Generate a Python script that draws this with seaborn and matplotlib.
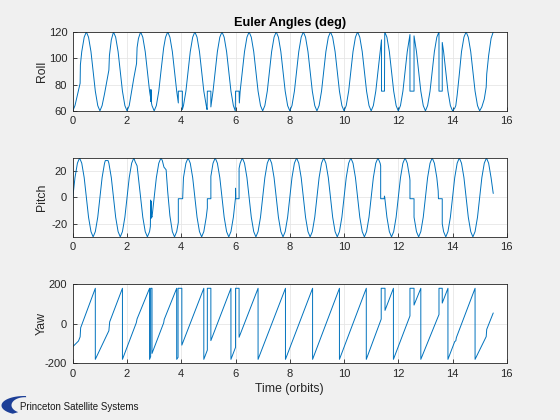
import numpy as np
import pandas as pd
import matplotlib
matplotlib.use('Agg')
import matplotlib.pyplot as plt
import seaborn as sns
from matplotlib.patches import Polygon

# values (time in orbits, angle in deg)
roll_pts = [
    (0, 60), (0.08, 64), (0.17, 72), (0.27, 81), (0.28, 95), (0.33, 105), (0.42, 116), (0.5, 120), (0.58, 116), (0.67, 105), (0.75, 90), (0.83, 75), (0.92, 64),
    (1, 60), (1.08, 64), (1.17, 73), (1.25, 82), (1.33, 91), (1.35, 102), (1.42, 114), (1.5, 120), (1.58, 116), (1.67, 105), (1.75, 90), (1.83, 75), (1.92, 64),
    (2, 60), (2.08, 64), (2.17, 75), (2.25, 85), (2.35, 96), (2.37, 108), (2.42, 115), (2.5, 120), (2.58, 116), (2.67, 105), (2.75, 90), (2.83, 75),
    (2.86, 71), (2.87, 76), (2.88, 67), (2.89, 76), (2.9, 66), (2.92, 64),
    (3, 60), (3.08, 64), (3.17, 75), (3.25, 90), (3.33, 104), (3.35, 108), (3.42, 116), (3.5, 120), (3.58, 116), (3.67, 105), (3.75, 90), (3.83, 75),
    (3.89, 66), (3.89, 75), (4.04, 75), (4.04, 61),
    (4.08, 64), (4.17, 75), (4.25, 90), (4.33, 105), (4.42, 116), (4.5, 120), (4.58, 116), (4.67, 105), (4.75, 90), (4.83, 75), (4.92, 64),
    (4.95, 61), (4.96, 75), (5.09, 75), (5.09, 63),
    (5.17, 75), (5.25, 90), (5.33, 105), (5.42, 116), (5.5, 120), (5.58, 116), (5.67, 105), (5.75, 90), (5.83, 75), (5.92, 64),
    (5.99, 60), (6.0, 75), (6.13, 75), (6.14, 66),
    (6.17, 75), (6.25, 90), (6.33, 105), (6.42, 116), (6.5, 120), (6.58, 116), (6.67, 105), (6.75, 90), (6.83, 75), (6.92, 64),
    (7, 60), (7.08, 64), (7.17, 75), (7.25, 90), (7.33, 105), (7.42, 116), (7.5, 120), (7.58, 116), (7.67, 105), (7.75, 90), (7.83, 75), (7.92, 64),
    (8, 60), (8.08, 64), (8.17, 75), (8.25, 90), (8.33, 105), (8.42, 116), (8.5, 120), (8.58, 116), (8.67, 105), (8.75, 90), (8.83, 75), (8.92, 64),
    (9, 60), (9.08, 64), (9.17, 75), (9.25, 90), (9.33, 105), (9.42, 116), (9.5, 120), (9.58, 116), (9.67, 105), (9.75, 90), (9.83, 75), (9.92, 64),
    (10, 60), (10.08, 64), (10.17, 75), (10.25, 90), (10.33, 105), (10.42, 116), (10.5, 120), (10.58, 116), (10.67, 105), (10.75, 90), (10.83, 75), (10.92, 64),
    (11, 60), (11.08, 64), (11.17, 75), (11.25, 90), (11.33, 105), (11.38, 114), (11.38, 75), (11.49, 75), (11.5, 120),
    (11.58, 116), (11.67, 105), (11.75, 90), (11.83, 75), (11.92, 64),
    (12, 60), (12.08, 64), (12.17, 75), (12.25, 90), (12.33, 105), (12.42, 117), (12.43, 118), (12.43, 75), (12.58, 75), (12.58, 117),
    (12.67, 105), (12.75, 90), (12.83, 75), (12.92, 64),
    (13, 60), (13.08, 64), (13.17, 75), (13.25, 90), (13.33, 105), (13.42, 116), (13.5, 120), (13.5, 75), (13.62, 75), (13.62, 112),
    (13.67, 105), (13.75, 90), (13.83, 75), (13.92, 64),
    (14, 60), (14.08, 62), (14.12, 64), (14.14, 67), (14.17, 72), (14.25, 88), (14.33, 105), (14.42, 116), (14.5, 120), (14.58, 116), (14.67, 105), (14.75, 90), (14.83, 75), (14.92, 64),
    (15, 60), (15.08, 63), (15.17, 69), (15.24, 78), (15.26, 88), (15.33, 102), (15.42, 115), (15.5, 120),
]

pitch_pts = [
    (0, 0), (0.08, 15), (0.17, 26), (0.25, 30), (0.33, 26), (0.42, 15), (0.5, 0), (0.58, -15), (0.67, -26), (0.75, -30), (0.83, -26), (0.92, -15),
    (1, 0), (1.08, 15), (1.17, 26), (1.2, 28), (1.3, 28), (1.33, 26), (1.42, 15), (1.5, 0), (1.58, -15), (1.67, -26), (1.75, -30), (1.83, -26), (1.92, -15),
    (2, 0), (2.08, 15), (2.17, 26), (2.25, 30), (2.3, 27), (2.37, 24), (2.42, 15), (2.5, 0), (2.58, -15), (2.67, -26), (2.75, -30), (2.83, -26),
    (2.86, -22), (2.87, -2), (2.88, -16), (2.89, -3), (2.9, -14), (2.92, -15),
    (3, 0), (3.08, 15), (3.17, 26), (3.25, 30), (3.3, 28), (3.36, 23), (3.44, 21), (3.5, 4), (3.58, -14), (3.67, -26), (3.75, -30), (3.83, -26),
    (3.89, -19), (3.89, -1), (4.05, -1),
    (4.08, 15), (4.17, 26), (4.25, 30), (4.33, 26), (4.42, 15), (4.5, 0), (4.58, -15), (4.67, -26), (4.75, -30), (4.83, -26), (4.92, -15),
    (4.96, -8), (4.96, -1), (5.09, -1), (5.09, 16),
    (5.17, 26), (5.25, 30), (5.33, 26), (5.42, 15), (5.5, 0), (5.58, -15), (5.67, -26), (5.75, -30), (5.83, -26), (5.92, -15),
    (6.0, 0), (6.0, 7), (6.01, -1), (6.13, -1), (6.13, 22),
    (6.17, 26), (6.25, 30), (6.33, 26), (6.42, 15), (6.5, 0), (6.58, -15), (6.67, -26), (6.75, -30), (6.83, -26), (6.92, -15),
    (7, 0), (7.08, 15), (7.17, 26), (7.25, 30), (7.33, 26), (7.42, 15), (7.5, 0), (7.58, -15), (7.67, -26), (7.75, -30), (7.83, -26), (7.92, -15),
    (8, 0), (8.08, 15), (8.17, 26), (8.25, 30), (8.33, 26), (8.42, 15), (8.5, 0), (8.58, -15), (8.67, -26), (8.75, -30), (8.83, -26), (8.92, -15),
    (9, 0), (9.08, 15), (9.17, 26), (9.25, 30), (9.33, 26), (9.42, 15), (9.5, 0), (9.58, -15), (9.67, -26), (9.75, -30), (9.83, -26), (9.92, -15),
    (10, 0), (10.08, 15), (10.17, 26), (10.25, 30), (10.33, 26), (10.42, 15), (10.5, 0), (10.58, -15), (10.67, -26), (10.75, -30), (10.83, -26), (10.92, -15),
    (11, 0), (11.08, 15), (11.17, 26), (11.25, 30), (11.33, 26), (11.35, 24), (11.35, -1), (11.48, -1), (11.49, 1), (11.5, 0),
    (11.58, -15), (11.67, -26), (11.75, -30), (11.83, -26), (11.92, -15),
    (12, 0), (12.08, 15), (12.17, 26), (12.25, 30), (12.33, 26), (12.42, 15), (12.43, 13), (12.43, -1), (12.58, -1), (12.58, -15),
    (12.67, -26), (12.75, -30), (12.83, -26), (12.92, -15),
    (13, 0), (13.08, 15), (13.17, 26), (13.25, 30), (13.33, 26), (13.42, 15), (13.47, 5), (13.48, -1), (13.62, -1), (13.62, -20),
    (13.67, -26), (13.75, -30), (13.83, -26), (13.92, -15),
    (14, 0), (14.08, 15), (14.17, 26), (14.25, 30), (14.33, 26), (14.42, 15), (14.5, 0), (14.58, -15), (14.67, -26), (14.75, -30), (14.83, -26), (14.92, -15),
    (15, 0), (15.08, 15), (15.17, 26), (15.25, 30), (15.33, 26), (15.42, 15), (15.5, 3),
]

yaw_pts = [
    (0, -116), (0.21, -87), (0.27, -66), (0.29, -20), (0.83, 180), (0.83, -180),
    (1.33, -35), (1.36, 10), (1.83, 180), (1.83, -180),
    (2.34, 5), (2.37, 25), (2.83, 180), (2.83, -180), (2.87, -166), (2.87, 180), (2.92, 180), (2.92, -150),
    (3.35, 5), (3.37, 22), (3.83, 180), (3.83, -180), (3.88, -170), (3.88, 180), (4.02, 180), (4.02, -108),
    (4.83, 180), (4.83, -180), (4.96, -133), (4.96, 180), (5.09, 180), (5.09, -85),
    (5.83, 180), (5.83, -180), (6.0, -119), (6.0, 180), (6.13, 180), (6.13, -68),
    (6.83, 180), (6.83, -180),
    (7.84, 180), (7.84, -180),
    (8.84, 180), (8.84, -180),
    (9.83, 180), (9.83, -180),
    (10.82, 180), (10.82, -180),
    (11.37, 24), (11.37, 180), (11.51, 180), (11.51, 68), (11.82, 180), (11.82, -180),
    (12.43, 40), (12.43, 180), (12.58, 180), (12.58, 95), (12.83, 180), (12.83, -180),
    (13.5, 47), (13.5, 180), (13.62, 180), (13.62, 105), (13.83, 180), (13.83, -180),
    (14.08, -90), (14.12, -86), (14.14, -70), (14.83, 180), (14.83, -180),
    (15.24, -65), (15.26, -28), (15.5, 55),
]

panels = [('Roll', roll_pts, (60, 120), [60, 80, 100, 120]),
          ('Pitch', pitch_pts, (-30, 30), [-20, 0, 20]),
          ('Yaw', yaw_pts, (-200, 200), [-200, 0, 200])]
x_ticks = list(range(0, 17, 2))

sns.set_style('ticks')
plt.rcParams['font.family'] = ['Liberation Sans', 'DejaVu Sans']
plt.rcParams['axes.unicode_minus'] = False

fig = plt.figure(figsize=(5.6, 4.2), dpi=100)
fig.patch.set_facecolor('#f0f0f0')

# axes boxes measured on the reference (fig fractions)
boxes = [[0.130, 0.736, 0.775, 0.188],
         [0.130, 0.436, 0.775, 0.188],
         [0.130, 0.135, 0.775, 0.188]]

dark = '#262626'
for (name, pts, ylim, yt), box in zip(panels, boxes):
    ax = fig.add_axes(box)
    df = pd.DataFrame(pts, columns=['t', 'v'])
    sns.lineplot(data=df, x='t', y='v', ax=ax, sort=False, estimator=None,
                 color='#0072BD', lw=0.7)
    ax.set_xlim(0, 16)
    ax.set_ylim(*ylim)
    ax.set_xticks(x_ticks)
    ax.set_yticks(yt)
    ax.grid(True, color='#e6e6e6', lw=0.6)
    ax.set_axisbelow(True)
    for s in ax.spines.values():
        s.set_color(dark)
        s.set_linewidth(0.6)
    ax.tick_params(direction='in', length=3, width=0.6, colors=dark,
                   labelsize=8, pad=4)
    ax.set_ylabel(name, fontsize=8.8, color=dark)
    ax.yaxis.set_label_coords(-0.057, 0.5)
    ax.set_xlabel('')
    if name == 'Roll':
        ax.set_title('Euler Angles (deg)', fontsize=9.2, fontweight='bold',
                     color='black', pad=4)
    if name == 'Yaw':
        ax.set_xlabel('Time (orbits)', fontsize=8.8, color=dark, labelpad=3)

# company logo, bottom left
lax = fig.add_axes([0, 0, 0.3, 0.1])
lax.set_xlim(0, 168)
lax.set_ylim(0, 42)
lax.axis('off')
a1 = np.linspace(np.radians(85), np.radians(240), 60)
a2 = a1[::-1]
outer = np.c_[24 + 22.5 * np.cos(a1), 14.5 + 9.5 * np.sin(a1)]
inner = np.c_[25 + 13.5 * np.cos(a2), 14.8 + 8 * np.sin(a2)]
lax.add_patch(Polygon(np.vstack([outer, inner]), closed=True,
                      fc='#1d3f97', ec='none'))
fig.text(20 / 560, 13 / 420, 'Princeton Satellite Systems', fontsize=7,
         va='center', ha='left', color='#1a1a1a')

fig.savefig('out.png', dpi=100, facecolor=fig.get_facecolor())
